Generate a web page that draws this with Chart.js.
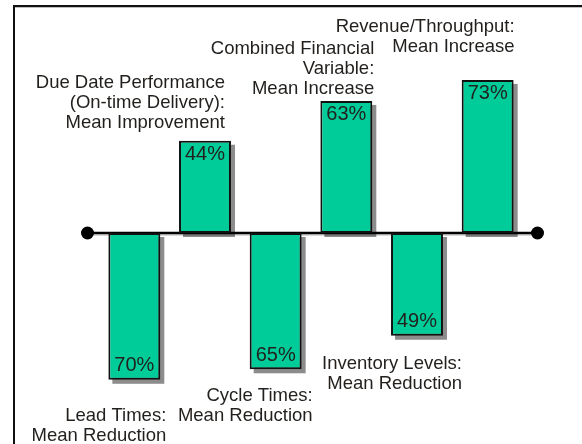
<!DOCTYPE html>
<html>
<head>
<meta charset="utf-8">
<script src="https://cdn.jsdelivr.net/npm/chart.js@4/dist/chart.umd.min.js"></script>
<style>
  html, body { margin: 0; padding: 0; background: #ffffff; }
  #wrap { width: 582px; height: 444px; position: relative; }
</style>
</head>
<body>
<div id="wrap"><canvas id="c" width="582" height="444"></canvas></div>
<script>
// ---- data ----
const categories = [
  ["Lead Times:", "Mean Reduction"],
  ["Due Date Performance", "(On-time Delivery):", "Mean Improvement"],
  ["Cycle Times:", "Mean Reduction"],
  ["Combined Financial", "Variable:", "Mean Increase"],
  ["Inventory Levels:", "Mean Reduction"],
  ["Revenue/Throughput:", "Mean Increase"]
];
const values = [-70, 44, -65, 63, -49, 73];
const valueLabels = ["70%", "44%", "65%", "63%", "49%", "73%"];

// ---- layout tweaks (not data) ----
const labelPlacement = [
  { dx: 6,  gap: 36 },
  { dx: -6, gap: 18 },
  { dx: 11, gap: 27 },
  { dx: 2,  gap: 12 },
  { dx: 19, gap: 28 },
  { dx: 1,  gap: 33 }
];
const FONT = '"Liberation Sans", Arial, sans-serif';
const TEXT = '#221f1c';

const framePlugin = {
  id: 'frame',
  beforeDraw(chart) {
    const ctx = chart.ctx;
    ctx.save();
    ctx.fillStyle = '#ffffff';
    ctx.fillRect(0, 0, chart.width, chart.height);
    ctx.strokeStyle = '#111111';
    ctx.lineWidth = 2;
    ctx.beginPath();
    ctx.moveTo(14, 444);
    ctx.lineTo(14, 6);
    ctx.lineTo(582, 6);
    ctx.stroke();
    ctx.strokeStyle = 'rgba(0,0,0,0.25)';
    ctx.lineWidth = 1;
    ctx.beginPath();
    ctx.moveTo(15, 7.5);
    ctx.lineTo(582, 7.5);
    ctx.stroke();
    ctx.restore();
  }
};

const shadowAxisPlugin = {
  id: 'shadowAxis',
  beforeDatasetsDraw(chart) {
    const ctx = chart.ctx;
    const meta = chart.getDatasetMeta(0);
    const y0 = chart.scales.y.getPixelForValue(0);
    ctx.save();
    // drop shadows
    ctx.fillStyle = '#8c8c8c';
    meta.data.forEach(el => {
      const left = el.x - el.width / 2;
      const top = Math.min(el.y, el.base);
      const h = Math.abs(el.base - el.y);
      ctx.fillRect(left + 4, top + 4, el.width, h);
    });
    // zero line
    const a = chart.chartArea;
    const x1 = a.left - 11.5, x2 = a.right + 14.5;
    ctx.strokeStyle = 'rgba(0,0,0,0.3)';
    ctx.lineWidth = 1;
    ctx.beginPath();
    ctx.moveTo(x1, y0 + 2);
    ctx.lineTo(x2, y0 + 2);
    ctx.stroke();
    ctx.strokeStyle = '#000000';
    ctx.lineWidth = 2.5;
    ctx.beginPath();
    ctx.moveTo(x1, y0);
    ctx.lineTo(x2, y0);
    ctx.stroke();
    ctx.fillStyle = '#000000';
    [x1, x2].forEach(x => {
      ctx.beginPath();
      ctx.arc(x, y0, 6.5, 0, Math.PI * 2);
      ctx.fill();
    });
    ctx.restore();
  }
};

const labelsPlugin = {
  id: 'barLabels',
  afterDatasetsDraw(chart) {
    const ctx = chart.ctx;
    const meta = chart.getDatasetMeta(0);
    const vals = chart.data.datasets[0].data;
    ctx.save();
    ctx.fillStyle = TEXT;
    // value labels inside bars
    ctx.font = '20px ' + FONT;
    ctx.textAlign = 'center';
    ctx.textBaseline = 'middle';
    meta.data.forEach((el, i) => {
      const y = vals[i] >= 0 ? el.y + 14 : el.y - 14;
      ctx.fillText(valueLabels[i], el.x, y);
    });
    // category labels
    ctx.font = '18.5px ' + FONT;
    ctx.textAlign = 'right';
    const lh = 20;
    meta.data.forEach((el, i) => {
      const lines = chart.data.labels[i];
      const p = labelPlacement[i];
      const right = el.x + el.width / 2 + p.dx;
      let firstY;
      if (vals[i] >= 0) {
        firstY = el.y - p.gap - (lines.length - 1) * lh;
      } else {
        firstY = el.y + p.gap;
      }
      lines.forEach((t, k) => ctx.fillText(t, right, firstY + k * lh));
    });
    ctx.restore();
  }
};

new Chart(document.getElementById('c'), {
  type: 'bar',
  data: {
    labels: categories,
    datasets: [{
      data: values,
      backgroundColor: '#00cc99',
      borderColor: '#111111',
      borderWidth: 2,
      borderSkipped: false,
      categoryPercentage: 1.0,
      barPercentage: 0.735
    }]
  },
  options: {
    responsive: false,
    animation: false,
    devicePixelRatio: 1,
    layout: { padding: { left: 99, right: 59, top: 38, bottom: 16 } },
    plugins: {
      legend: { display: false },
      tooltip: { enabled: false }
    },
    scales: {
      x: { display: false, offset: true, grid: { display: false } },
      y: { display: false, min: -93, max: 93, grid: { display: false } }
    }
  },
  plugins: [framePlugin, shadowAxisPlugin, labelsPlugin]
});
</script>
</body>
</html>
